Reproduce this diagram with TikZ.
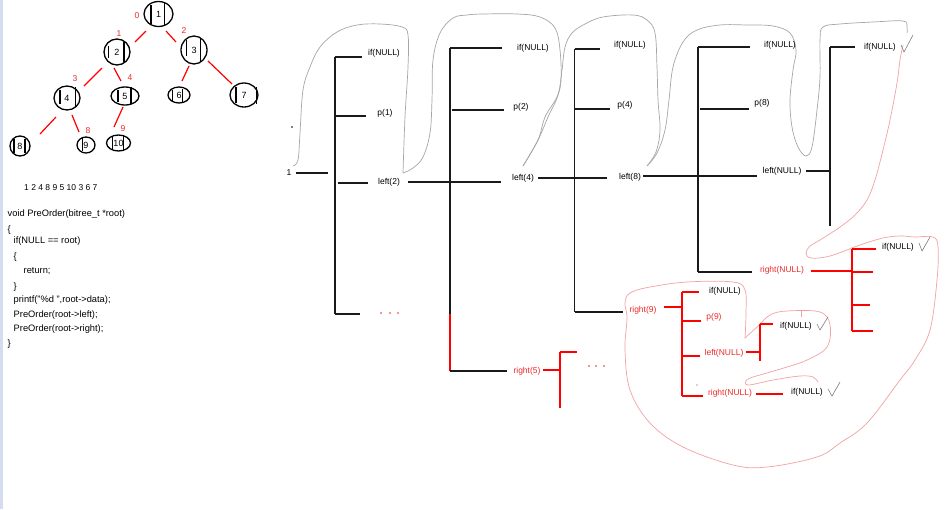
\documentclass[tikz,border=0pt]{standalone}
\usepackage{fontspec}
\setmainfont{Liberation Sans}
\usetikzlibrary{shapes.geometric,calc}
\definecolor{txtred}{HTML}{EE2A2A}
\definecolor{gcurve}{HTML}{A6A6A6}
\definecolor{pcurve}{HTML}{F2A2A2}
\definecolor{stripc}{HTML}{D4DDEE}
\definecolor{lnblack}{HTML}{1A1A1A}
\begin{document}
\begin{tikzpicture}[x=1pt,y=-1pt,font=\fontsize{8.5}{10}\selectfont,
  tn/.style={draw=black,line width=1.3pt,ellipse,inner sep=0pt,font=\fontsize{9}{10}\selectfont},
  bar/.style={draw=black,line width=1.1pt},
  tedge/.style={draw=red,line width=1.2pt},
  rnum/.style={text=txtred,inner sep=0pt},
  code/.style={anchor=west,inner sep=0pt,font=\fontsize{9.3}{11}\selectfont},
  lbl/.style={inner sep=0pt},
  rlbl/.style={inner sep=0pt,text=txtred},
  br/.style={draw=lnblack,line width=1.6pt},
  rbr/.style={draw=red,line width=1.6pt},
  gc/.style={draw=gcurve,line width=0.7pt},
  pc/.style={draw=pcurve,line width=0.7pt},
  chk/.style={draw=gray,line width=0.6pt},
  rdot/.style={fill=txtred}]
\path[use as bounding box,fill=white] (0,0) rectangle (952,509);
\fill[stripc] (0,0) rectangle (3,509);

% ---------------- small binary tree ----------------
\node[tn,minimum width=29,minimum height=25] (n1) at (158.5,14) {1};
\node[tn,minimum width=26,minimum height=26] (n2) at (117,52) {2};
\node[tn,minimum width=26,minimum height=28] (n3) at (194,50) {3};
\node[tn,minimum width=26,minimum height=24] (n4) at (67,98) {4};
\node[tn,minimum width=28,minimum height=18] (n5) at (125,96) {5};
\node[tn,minimum width=22,minimum height=16] (n6) at (179,95) {6};
\node[tn,minimum width=28,minimum height=24] (n7) at (244,95) {7};
\node[tn,minimum width=20,minimum height=20] (n8) at (20,146) {8};
\node[tn,minimum width=18,minimum height=16] (n9) at (86,145) {9};
\node[tn,minimum width=24,minimum height=16] (n10) at (118.5,143) {10};

\draw[bar] (151,5) -- (151,24);   \draw[bar,line width=1.8pt] (164.5,3) -- (164.5,25);
\draw[bar] (108.5,46) -- (108.5,58); \draw[bar,line width=1.4pt] (124,42) -- (124,62);
\draw[bar] (186.5,40) -- (186.5,56); \draw[bar,line width=1.8pt] (200.5,39) -- (200.5,62);
\draw[bar] (60,90) -- (60,104);   \draw[bar,line width=1.4pt] (75.5,87) -- (75.5,107);
\draw[bar] (118,90) -- (118,102); \draw[bar,line width=1.4pt] (131,87) -- (131,104);
\draw[bar] (172.5,90) -- (172.5,101); \draw[bar,line width=1.4pt] (182.5,89) -- (182.5,102);
\draw[bar] (236,87) -- (236,103); \draw[bar,line width=1.4pt] (256.5,87) -- (256.5,104);
\draw[bar] (14,139) -- (14,153);  \draw[bar,line width=1.4pt] (25,139) -- (25,153);
\draw[bar] (82.5,138) -- (82.5,151);
\draw[bar] (112.5,137) -- (112.5,150); \draw[bar,line width=1.4pt] (123.5,136) -- (123.5,150);

\draw[tedge] ($(n1)+(-12.5,17)$) -- ($(n1)+(-23.5,28)$);
\draw[tedge] ($(n1)+(7.5,17)$) -- ($(n1)+(17.5,28)$);
\draw[tedge] ($(n2)+(-15,16)$) -- ($(n2)+(-33,34)$);
\draw[tedge] ($(n2)+(-3,16)$) -- ($(n2)+(4,29)$);
\draw[tedge] ($(n3)+(-5,16)$) -- ($(n3)+(-12,31)$);
\draw[tedge] ($(n3)+(14,11)$) -- ($(n3)+(38,34)$);
\draw[tedge] ($(n4)+(-11,19)$) -- ($(n4)+(-27,36)$);
\draw[tedge] ($(n4)+(5,17)$) -- ($(n4)+(12,34)$);
\draw[tedge] ($(n5)+(-2,11)$) -- ($(n5)+(-11,31)$);

\node[rnum] (e0) at (137,16) {0};
\node[rnum] (e1) at (119,34) {1};
\node[rnum] (e2) at (184,31) {2};
\node[rnum] (e3) at (75,79) {3};
\node[rnum] (e4) at (130,78) {4};
\node[rnum] (e8) at (88,131) {8};
\node[rnum] (e9) at (123,129) {9};

% ---------------- code ----------------
\node[code,font=\fontsize{8.5}{10}\selectfont] (seq) at (24,188) {1 2 4 8 9 5 10 3 6 7};
\node[code] (k1) at (7.5,214) {void PreOrder(bitree\_t *root)};
\node[code] (k2) at (7.5,230) {\{};
\node[code] (k3) at (13.5,241) {if(NULL == root)};
\node[code] (k4) at (13.5,257) {\{};
\node[code] (k5) at (23.5,271) {return;};
\node[code] (k6) at (13.5,287) {\}};
\node[code] (k7) at (13.5,300) {printf("\%d ",root->data);};
\node[code] (k8) at (13.5,315) {PreOrder(root->left);};
\node[code] (k9) at (13.5,329) {PreOrder(root->right);};
\node[code] (k10) at (7.5,344) {\}};

% ---------------- grey snake curves ----------------
\draw[gc] plot[smooth,tension=0.6] coordinates {(293,166) (298,160) (300,133) (303,90) (310,67) (320,47) (337,32) (357,25) (380,24) (402,27) (408,35) (408,67) (405,117) (403,173)};
\draw[gc] plot[smooth,tension=0.6] coordinates {(403,173) (413,168) (423,157) (430,133) (432,100) (433,60) (440,33) (453,18) (467,15) (483,14) (517,14) (540,17) (555,28) (560,50) (561,80) (557,97) (545,117) (538,140) (523,166)};
\draw[gc] plot[smooth,tension=0.6] coordinates {(523,166) (538,140) (548,117) (558,95) (562,70) (565,47) (572,33) (585,24) (603,17) (633,15) (647,20) (655,33) (657,67) (658,100) (660,130) (656,152) (647,166)};
\draw[gc] plot[smooth,tension=0.6] coordinates {(647,166) (657,153) (665,130) (669,100) (673,67) (683,42) (697,30) (720,25) (747,25) (773,26) (790,33) (796,50) (793,70) (790,100) (792,127) (798,147) (806,156) (812,147) (817,110) (820,77) (820,40) (823,27) (840,24) (873,22) (903,21) (907,27) (907,33)};

% ---------------- pink curves ----------------
\draw[pc] plot[smooth,tension=0.6] coordinates {(903,45) (900,60) (897,83) (890,120) (883,150) (875,180) (867,200) (855,215) (840,227) (820,240) (810,246) (806,253) (811,258) (830,256) (860,245) (883,238) (900,236) (915,237) (933,237) (938,247) (937,280) (930,330) (915,360) (900,380) (867,423) (840,443) (817,457) (767,467) (733,465) (683,447) (650,423) (630,390) (625,350) (627,318) (625,303) (630,293) (650,287) (687,282) (733,282) (745,290) (746,313) (745,338)};
\draw[pc] plot[smooth,tension=0.6] coordinates {(745,338) (757,327) (770,315) (787,311) (820,312) (830,325) (827,347) (807,360) (787,367) (767,373) (748,379) (748,385) (773,380) (800,376) (813,377) (818,382)};
\draw[pc] (801,311) -- (801,317);

% ---------------- recursion tree ----------------
\node[lbl] (r1) at (289,173) {1};
\fill (292,127) circle (0.8);
\coordinate (v1t) at (335,57); \coordinate (v1b) at (335,314);
\draw[br] (r1.east) ++(4,0) -- (328,173);
\draw[br] (v1t) -- (v1b);
\node[lbl] (a1) at (384,53) {if(NULL)};
\node[lbl] (a2) at (385,113) {p(1)};
\node[lbl] (a3) at (389,182) {left(2)};
\draw[br] (v1t) -- (362,57);
\draw[br] (335,116) -- (366,116);
\draw[br] (338,183) -- (368,183);
\draw[br] (v1b) -- (360,314);
\foreach \x in {381,390,398} \fill[rdot] (\x,313) circle (0.9);

\coordinate (v2t) at (450,48); \coordinate (v2m) at (450,314); \coordinate (v2b) at (450,371);
\draw[br] (408,182) -- (501,182);
\draw[br] (v2t) -- (v2m);
\draw[rbr] (v2m) -- (v2b);
\node[lbl] (b1) at (533,48) {if(NULL)};
\node[lbl] (b2) at (521,107) {p(2)};
\node[lbl] (b3) at (523,178) {left(4)};
\node[rlbl] (b4) at (527,371) {right(5)};
\draw[br] (v2t) -- (502,48);
\draw[br] (452,110) -- (504,110);
\draw[br] (v2b) -- (507,371);
\draw[rbr] (543,370) -- (560,370);
\draw[rbr] (560,352) -- (560,408);
\draw[rbr] (560,352) -- (577,352);
\foreach \x in {589,596,604} \fill[rdot] (\x,366) circle (0.9);

\coordinate (v3t) at (574.5,49); \coordinate (v3b) at (574.5,312);
\draw[br] (538,178) -- (607,178);
\draw[br] (v3t) -- (v3b);
\node[lbl] (c1) at (630,45) {if(NULL)};
\node[lbl] (c2) at (625,105) {p(4)};
\node[lbl] (c3) at (630,177) {left(8)};
\node[rlbl] (c4) at (643,310) {right(9)};
\draw[br] (v3t) -- (600,49);
\draw[br] (575,109) -- (610,109);
\draw[br] (v3b) -- (623,312);

\coordinate (v4t) at (698,47); \coordinate (v4b) at (698,272);
\draw[br] (643,176) -- (757,176);
\draw[br] (v4t) -- (v4b);
\node[lbl] (d1) at (780,45) {if(NULL)};
\node[lbl] (d2) at (762,103) {p(8)};
\node[lbl] (d3) at (782,171) {left(NULL)};
\node[rlbl] (d4) at (782,270) {right(NULL)};
\draw[br] (v4t) -- (750,47);
\draw[br] (700,109) -- (749,109);
\draw[br] (v4b) -- (752,272);

\coordinate (v5t) at (830,47); \coordinate (v5b) at (830,226);
\draw[br] (806,171) -- (829,171);
\draw[br] (v5t) -- (v5b);
\draw[br] (v5t) -- (855,47);
\node[lbl] (f1) at (880,47) {if(NULL)};
\draw[chk] (901,45) -- ++(3,7) -- ++(9,-17);

% right(NULL) of node 8
\draw[rbr] (811,271) -- (853,271);
\draw[rbr] (852,249) -- (852,331);
\draw[rbr] (852,249) -- (876,249);
\draw[rbr] (852,272) -- (873,272);
\draw[rbr] (852,305) -- (870,305);
\draw[rbr] (852,331) -- (873,331);
\node[lbl] (h1) at (898,247) {if(NULL)};
\draw[chk] (919,243) -- ++(3,8) -- ++(8,-14);

% right(9) group
\draw[rbr] (664,307) -- (682,307);
\draw[rbr] (682,292) -- (682,396);
\draw[rbr] (682,292) -- (699,292);
\draw[rbr] (682,321) -- (701,321);
\draw[rbr] (681,356) -- (700,356);
\draw[rbr] (682,396) -- (703,396);
\node[lbl] (g1) at (725,291) {if(NULL)};
\node[rlbl] (g2) at (714,317) {p(9)};
\node[rlbl] (g3) at (724,353) {left(NULL)};
\node[rlbl] (g4) at (730,393) {right(NULL)};
\fill[black!70] (697,385) circle (0.7);
\draw[rbr] (746,352) -- (759,352);
\draw[rbr] (760,324) -- (760,361);
\draw[rbr] (760,324) -- (773,324);
\node[lbl] (g5) at (796,326) {if(NULL)};
\draw[chk] (817,324) -- ++(3,6) -- ++(8,-13);
\draw[rbr] (756,394) -- (783,394);
\node[lbl] (g6) at (807,392) {if(NULL)};
\draw[chk] (828,389) -- ++(4,7) -- ++(8,-14);
\end{tikzpicture}
\end{document}
